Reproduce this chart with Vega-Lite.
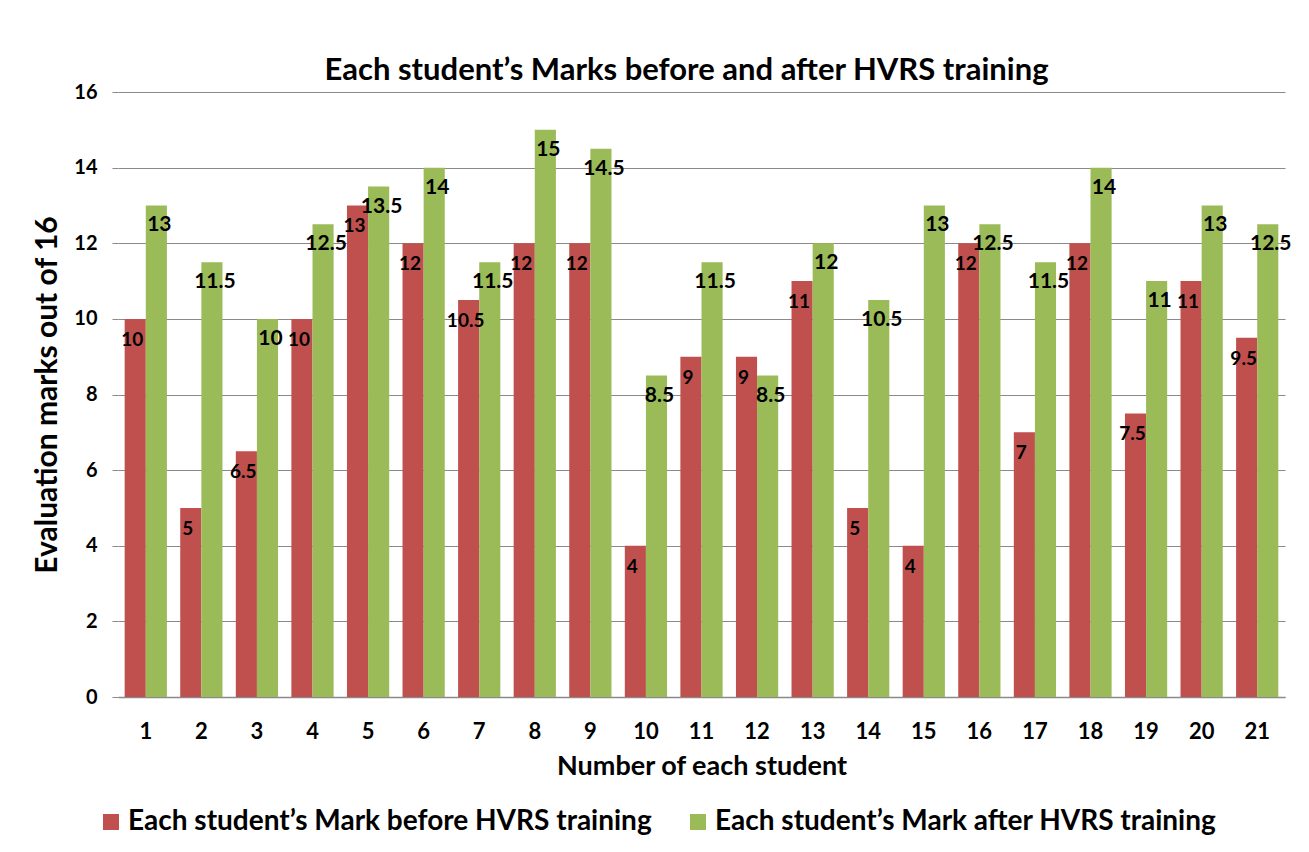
{
  "$schema": "https://vega.github.io/schema/vega-lite/v6.json",
  "width": 1167,
  "height": 605,
  "autosize": "none",
  "padding": {"left": 118, "top": 92, "right": 24, "bottom": 155},
  "background": "white",
  "config": {"font": "Lato", "view": {"stroke": null}},
  "title": {
    "text": "Each student’s Marks before and after HVRS training",
    "fontSize": 31,
    "fontWeight": "bold",
    "color": "#000000",
    "offset": -5,
    "dx": -15
  },
  "data": {
    "values": [
      {"student": 1, "series": "Each student’s Mark before HVRS training", "mark": 10},
      {"student": 2, "series": "Each student’s Mark before HVRS training", "mark": 5},
      {"student": 3, "series": "Each student’s Mark before HVRS training", "mark": 6.5},
      {"student": 4, "series": "Each student’s Mark before HVRS training", "mark": 10},
      {"student": 5, "series": "Each student’s Mark before HVRS training", "mark": 13},
      {"student": 6, "series": "Each student’s Mark before HVRS training", "mark": 12},
      {"student": 7, "series": "Each student’s Mark before HVRS training", "mark": 10.5},
      {"student": 8, "series": "Each student’s Mark before HVRS training", "mark": 12},
      {"student": 9, "series": "Each student’s Mark before HVRS training", "mark": 12},
      {"student": 10, "series": "Each student’s Mark before HVRS training", "mark": 4},
      {"student": 11, "series": "Each student’s Mark before HVRS training", "mark": 9},
      {"student": 12, "series": "Each student’s Mark before HVRS training", "mark": 9},
      {"student": 13, "series": "Each student’s Mark before HVRS training", "mark": 11},
      {"student": 14, "series": "Each student’s Mark before HVRS training", "mark": 5},
      {"student": 15, "series": "Each student’s Mark before HVRS training", "mark": 4},
      {"student": 16, "series": "Each student’s Mark before HVRS training", "mark": 12},
      {"student": 17, "series": "Each student’s Mark before HVRS training", "mark": 7},
      {"student": 18, "series": "Each student’s Mark before HVRS training", "mark": 12},
      {"student": 19, "series": "Each student’s Mark before HVRS training", "mark": 7.5},
      {"student": 20, "series": "Each student’s Mark before HVRS training", "mark": 11},
      {"student": 21, "series": "Each student’s Mark before HVRS training", "mark": 9.5},
      {"student": 1, "series": "Each student’s Mark after HVRS training", "mark": 13},
      {"student": 2, "series": "Each student’s Mark after HVRS training", "mark": 11.5},
      {"student": 3, "series": "Each student’s Mark after HVRS training", "mark": 10},
      {"student": 4, "series": "Each student’s Mark after HVRS training", "mark": 12.5},
      {"student": 5, "series": "Each student’s Mark after HVRS training", "mark": 13.5},
      {"student": 6, "series": "Each student’s Mark after HVRS training", "mark": 14},
      {"student": 7, "series": "Each student’s Mark after HVRS training", "mark": 11.5},
      {"student": 8, "series": "Each student’s Mark after HVRS training", "mark": 15},
      {"student": 9, "series": "Each student’s Mark after HVRS training", "mark": 14.5},
      {"student": 10, "series": "Each student’s Mark after HVRS training", "mark": 8.5},
      {"student": 11, "series": "Each student’s Mark after HVRS training", "mark": 11.5},
      {"student": 12, "series": "Each student’s Mark after HVRS training", "mark": 8.5},
      {"student": 13, "series": "Each student’s Mark after HVRS training", "mark": 12},
      {"student": 14, "series": "Each student’s Mark after HVRS training", "mark": 10.5},
      {"student": 15, "series": "Each student’s Mark after HVRS training", "mark": 13},
      {"student": 16, "series": "Each student’s Mark after HVRS training", "mark": 12.5},
      {"student": 17, "series": "Each student’s Mark after HVRS training", "mark": 11.5},
      {"student": 18, "series": "Each student’s Mark after HVRS training", "mark": 14},
      {"student": 19, "series": "Each student’s Mark after HVRS training", "mark": 11},
      {"student": 20, "series": "Each student’s Mark after HVRS training", "mark": 13},
      {"student": 21, "series": "Each student’s Mark after HVRS training", "mark": 12.5}
    ]
  },
  "encoding": {
    "x": {
      "field": "student",
      "type": "ordinal",
      "scale": {"paddingInner": 0.24, "paddingOuter": 0.12},
      "axis": {
        "title": "Number of each student",
        "titleFontSize": 27,
        "titleFontWeight": "bold",
        "titleColor": "#000000",
        "titlePadding": 11,
        "labelAngle": 0,
        "labelFontSize": 22,
        "labelFontWeight": "bold",
        "labelColor": "#000000",
        "labelPadding": 24,
        "ticks": false,
        "domainColor": "#8a8a8a",
        "domainWidth": 1.5
      }
    },
    "xOffset": {
      "field": "series",
      "type": "nominal",
      "sort": ["Each student’s Mark before HVRS training", "Each student’s Mark after HVRS training"]
    },
    "y": {
      "field": "mark",
      "type": "quantitative",
      "scale": {"domain": [0, 16]},
      "axis": {
        "values": [0, 2, 4, 6, 8, 10, 12, 14, 16],
        "title": "Evaluation marks out of 16",
        "titleFontSize": 30,
        "titleFontWeight": "bold",
        "titleColor": "#000000",
        "titlePadding": 11,
        "labelFontSize": 20,
        "labelFontWeight": "bold",
        "labelColor": "#000000",
        "labelPadding": 15,
        "domain": false,
        "ticks": true,
        "tickSize": 6,
        "tickColor": "#8a8a8a",
        "gridColor": "#8a8a8a",
        "gridWidth": 1.2
      }
    }
  },
  "layer": [
    {
      "mark": {"type": "bar"},
      "encoding": {
        "color": {
          "field": "series",
          "type": "nominal",
          "sort": ["Each student’s Mark before HVRS training", "Each student’s Mark after HVRS training"],
          "scale": {"range": ["#C0504D", "#9BBB59"]},
          "legend": {
            "orient": "none",
            "legendX": -21,
            "legendY": 716,
            "direction": "horizontal",
            "title": null,
            "symbolType": "square",
            "symbolSize": 256,
            "symbolStrokeWidth": 0,
            "labelFontSize": 28,
            "labelFontWeight": "bold",
            "labelColor": "#000000",
            "labelLimit": 0,
            "labelOffset": 3,
            "columnPadding": 32
          }
        }
      }
    },
    {
      "transform": [{"filter": "datum.series === 'Each student’s Mark before HVRS training'"}],
      "mark": {"type": "text", "dy": 21, "dx": -3, "fontSize": 19, "fontWeight": "bold", "color": "#000000", "baseline": "middle"},
      "encoding": {"text": {"field": "mark", "type": "quantitative"}}
    },
    {
      "transform": [{"filter": "datum.series === 'Each student’s Mark after HVRS training'"}],
      "mark": {"type": "text", "dy": 20, "dx": 3, "fontSize": 21, "fontWeight": "bold", "color": "#000000", "baseline": "middle"},
      "encoding": {"text": {"field": "mark", "type": "quantitative"}}
    }
  ]
}
